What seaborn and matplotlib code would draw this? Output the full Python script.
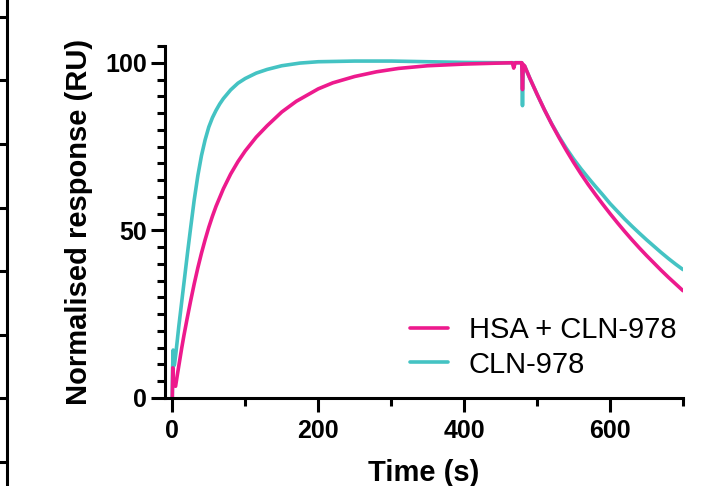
import matplotlib as mpl
import matplotlib.pyplot as plt
from matplotlib.ticker import MultipleLocator
import numpy as np
import pandas as pd
import seaborn as sns

# --- data (time in s, normalised response in RU) ---
hsa_time = [0, 0.7, 1.5, 3, 4.5, 7, 10, 13, 16, 20, 25, 30, 35, 40, 45, 50,
            55, 60, 70, 80, 90, 100, 115, 130, 150, 170, 200, 220, 250, 280,
            310, 350, 400, 440, 466, 468, 470, 479, 480, 481, 483,
            490, 500, 510, 520, 530, 540, 550, 560, 570, 580, 590, 600,
            610, 620, 630, 640, 650, 660, 670, 680, 690, 700]
hsa_resp = [0, 9, 5, 4, 3.5, 7, 11, 15, 18.7, 23.3, 28.8, 34, 38.8, 43.2,
            47.2, 50.9, 54.2, 57.2, 62.4, 66.8, 70.5, 73.7, 77.8, 81.2, 85.3,
            88.5, 92.2, 94, 95.9, 97.3, 98.3, 99.1, 99.6, 99.85, 100, 98.4,
            100, 100, 92, 99.5, 99,
            95.4, 90.6, 86.0, 81.7, 77.7, 73.9, 70.3, 66.9, 63.7, 60.7, 57.8,
            55.0, 52.3, 49.7, 47.2, 44.8, 42.5, 40.3, 38.1, 36.0, 34.0, 32.0]

cln_time = [0, 0.5, 1.2, 1.8, 3, 5, 7, 9, 12, 15, 18, 21, 25, 30, 35, 40,
            45, 50, 55, 60, 65, 70, 80, 90, 100, 115, 130, 150, 175, 200,
            250, 300, 350, 400, 450, 479, 480, 481, 483,
            490, 500, 510, 520, 530, 540, 550, 560, 570, 580, 590, 600,
            610, 620, 630, 640, 650, 660, 670, 680, 690, 700]
cln_resp = [0, 9, 14.3, 9.5, 10, 13.5, 17.5, 21.5, 27, 32.5, 38, 43.5, 50.5,
            59, 66.3, 72.3, 77, 80.8, 83.6, 85.8, 87.7, 89.3, 91.9, 93.9,
            95.3, 96.9, 98.0, 99.1, 99.9, 100.3, 100.5, 100.5, 100.3, 100.1,
            100.0, 100.0, 87.2, 99, 99,
            95.4, 90.6, 86.0, 81.8, 78.0, 74.5, 71.3, 68.4, 65.7, 63.1, 60.6,
            58.0, 55.7, 53.4, 51.25, 49.2, 47.2, 45.3, 43.4, 41.6, 39.9, 38.3]

labels = ["HSA + CLN-978", "CLN-978"]
colors = {"HSA + CLN-978": "#ED1A8D", "CLN-978": "#44C3C3"}

df = pd.concat([
    pd.DataFrame({"time": hsa_time, "resp": hsa_resp, "sample": labels[0]}),
    pd.DataFrame({"time": cln_time, "resp": cln_resp, "sample": labels[1]}),
])

sns.set_theme(style="ticks")
mpl.rcParams.update({
    "font.family": ["Liberation Sans", "DejaVu Sans"],
    "axes.edgecolor": "black",
    "xtick.color": "black",
    "ytick.color": "black",
    "text.color": "black",
    "axes.labelcolor": "black",
})

fig = plt.figure(figsize=(7.06, 4.86), dpi=100)
ax = fig.add_axes([0.2337, 0.1811, 0.7337, 0.7243])

# cyan first so the pink trace sits on top
sns.lineplot(data=df, x="time", y="resp", hue="sample",
             hue_order=[labels[1], labels[0]], palette=colors,
             estimator=None, sort=False, linewidth=2.6, ax=ax,
             legend=False)

ax.set_xlim(-10, 700)
ax.set_ylim(0, 105)
ax.xaxis.set_major_locator(MultipleLocator(200))
ax.xaxis.set_minor_locator(MultipleLocator(100))
ax.set_yticks([0, 50, 100])
ax.yaxis.set_minor_locator(MultipleLocator(5))

sns.despine(ax=ax)
for side in ["left", "bottom"]:
    ax.spines[side].set_linewidth(2.2)
ax.tick_params(which="major", length=10, width=2.2, labelsize=18, pad=3)
ax.tick_params(axis="x", which="major", pad=5)
ax.tick_params(which="minor", length=5.5, width=2.2)
for lbl in ax.get_xticklabels() + ax.get_yticklabels():
    lbl.set_fontweight("bold")

ax.set_xlabel("Time (s)", fontsize=21, fontweight="bold", labelpad=12)
ax.set_ylabel("Normalised response (RU)", fontsize=21, fontweight="bold",
              labelpad=9)

handles = [mpl.lines.Line2D([], [], color=colors[s], lw=2.6) for s in labels]
ax.legend(handles, labels, loc="lower right", bbox_to_anchor=(0.987, 0.055),
          frameon=False, fontsize=21, handlelength=1.3, handletextpad=0.7,
          labelspacing=0.22, borderpad=0, borderaxespad=0)

# edge of the neighbouring panel, cut off at the left border
edge = fig.add_axes([7 / 706, 0, 0.001, 1])
edge.set_ylim(0, 486)
edge.set_xticks([])
edge.set_yticks(np.arange(24, 486, 63.6))
edge.set_yticklabels([])
edge.tick_params(axis="y", length=7, width=2.2)
for side in ["top", "right", "bottom"]:
    edge.spines[side].set_visible(False)
edge.spines["left"].set_linewidth(2.2)
edge.patch.set_visible(False)

fig.savefig("out.png", dpi=100)
